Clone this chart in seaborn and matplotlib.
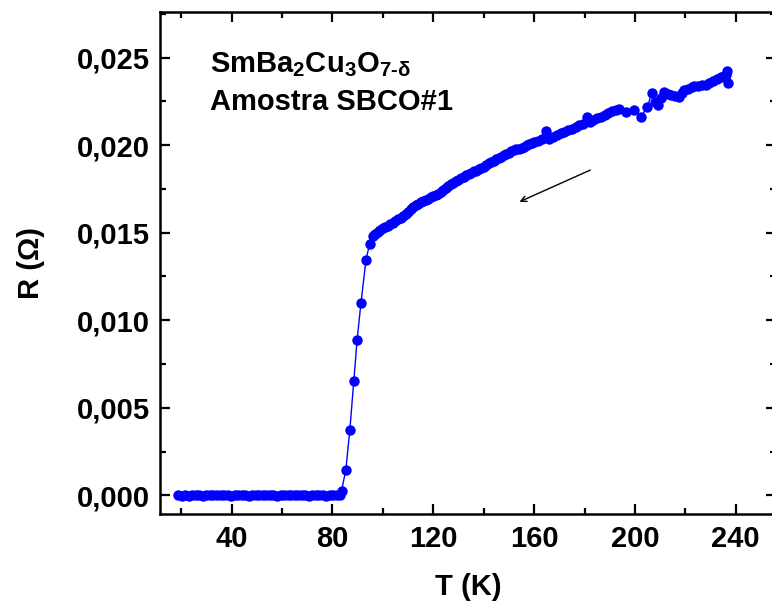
import numpy as np
import pandas as pd
import matplotlib
matplotlib.use('Agg')
import matplotlib.pyplot as plt
import seaborn as sns
from matplotlib.ticker import MultipleLocator, FuncFormatter

# %%
# R(T) for SmBa2Cu3O7-d, sample SBCO#1
T_flat = [18.8, 20.2, 21.6, 23.0, 24.4, 25.8, 27.2, 28.6, 30.0, 31.4, 32.8, 34.2,
          35.6, 37.0, 38.4, 39.8, 41.2, 42.6, 44.0, 45.4, 46.8, 48.2, 49.6, 51.0,
          52.4, 53.8, 55.2, 56.6, 58.0, 59.4, 60.8, 62.2, 63.6, 65.0, 66.4, 67.8,
          69.2, 70.6, 72.0, 73.4, 74.8, 76.2, 77.6, 79.0, 80.4, 81.8, 83.0]
R_flat = [0.00000, -0.00001, 0.00001, -0.00001, 0.00000, 0.00001, 0.00000, -0.00001,
          0.00001, 0.00001, 0.00000, 0.00000, 0.00002, 0.00001, 0.00000, -0.00001,
          0.00000, 0.00000, 0.00001, 0.00000, -0.00001, 0.00000, 0.00000, 0.00001,
          0.00000, 0.00001, 0.00000, 0.00000, -0.00001, 0.00000, 0.00001, 0.00002,
          0.00001, 0.00000, 0.00002, 0.00000, 0.00000, -0.00001, 0.00000, 0.00001,
          0.00000, 0.00000, -0.00001, 0.00000, 0.00000, 0.00001, 0.00003]

T_trans = [83.6, 85.3, 86.9, 88.5, 89.8, 91.3, 93.3, 94.7, 96.0]
R_trans = [0.00026, 0.00146, 0.00374, 0.00655, 0.00890, 0.01097, 0.01344, 0.01434, 0.01481]

T_norm = [97, 98, 99, 100, 101, 102, 103, 104, 105, 106, 107, 108, 109, 110, 111, 112,
          113, 114, 115, 116, 117, 118, 119, 120, 121, 122, 123, 124, 125, 126, 127, 128,
          129, 130, 131, 132, 133, 134, 135, 136, 137, 138, 139, 140, 141, 142, 143, 144,
          145, 146, 147, 148, 149, 150, 151, 152, 153, 154, 155, 156, 157, 158, 159, 160,
          161.5, 163, 164.7, 166, 167.5, 169, 170.5, 172, 173.5, 175, 176.5, 178, 179.5,
          181, 182, 183.5, 185, 186.5, 188, 189.5, 191, 192.5, 193.6, 196.3, 199.6, 202.5,
          204.9, 206.7, 208, 209, 210.5, 211.6, 213, 214.3, 216, 217.3, 218.5, 219.6, 221,
          222.5, 223.6, 225, 226.5, 228, 229.5, 231, 232.5, 234, 235.3, 236.3, 236.7, 236.9]
R_norm = [0.01495, 0.01506, 0.01515, 0.01525, 0.01533, 0.01540, 0.01548, 0.01556,
          0.01568, 0.01578, 0.01586, 0.01595, 0.01608, 0.01620, 0.01633, 0.01645,
          0.01656, 0.01665, 0.01673, 0.01680, 0.01688, 0.01695, 0.01702, 0.01708,
          0.01714, 0.01722, 0.01731, 0.01742, 0.01755, 0.01766, 0.01776, 0.01785,
          0.01793, 0.01801, 0.01811, 0.01820, 0.01828, 0.01836, 0.01843, 0.01850,
          0.01855, 0.01862, 0.01868, 0.01876, 0.01886, 0.01895, 0.01903, 0.01911,
          0.01918, 0.01926, 0.01934, 0.01941, 0.01948, 0.01956, 0.01964, 0.01971,
          0.01975, 0.01979, 0.01985, 0.01992, 0.01999, 0.02006, 0.02012, 0.02018,
          0.02025, 0.02032, 0.02078, 0.02035, 0.02045, 0.02058, 0.02068, 0.02075, 0.02085,
          0.02094, 0.02103, 0.02112, 0.02122, 0.02162, 0.02132, 0.02142, 0.02153, 0.02163,
          0.02173, 0.02182, 0.02193, 0.02200, 0.02206, 0.02191, 0.02200, 0.02162,
          0.02219, 0.02296, 0.02245, 0.02229, 0.02270, 0.02305, 0.02292, 0.02286, 0.02280,
          0.02273, 0.02300, 0.02314, 0.02322, 0.02330, 0.02337, 0.02340, 0.02342, 0.02345,
          0.02352, 0.02368, 0.02380, 0.02388, 0.02393, 0.02400, 0.02425, 0.02353]

df = pd.DataFrame({'T': T_flat + T_trans + T_norm,
                   'R': R_flat + R_trans + R_norm})

# %%
sns.set_style('ticks')
plt.rcParams['font.family'] = ['Liberation Sans', 'DejaVu Sans']
plt.rcParams['font.weight'] = 'bold'
plt.rcParams['text.color'] = 'black'
plt.rcParams['axes.labelcolor'] = 'black'
plt.rcParams['xtick.color'] = 'black'
plt.rcParams['ytick.color'] = 'black'
plt.rcParams['mathtext.fontset'] = 'custom'
plt.rcParams['mathtext.rm'] = 'Liberation Sans:bold'
plt.rcParams['mathtext.it'] = 'Liberation Sans:bold'
plt.rcParams['mathtext.bf'] = 'Liberation Sans:bold'

fs = 21
fig = plt.figure(figsize=(7.72, 6.08), dpi=100)
ax = fig.add_axes([0.2073, 0.1546, 0.798, 0.8257])

sns.lineplot(data=df, x='T', y='R', sort=False, ax=ax, color='#0000ff', lw=1,
             marker='o', markersize=7.5, markeredgewidth=0, markeredgecolor='#0000ff')

ax.set_xlim(11.6, 256)
ax.set_ylim(-0.00106, 0.0276)
ax.xaxis.set_major_locator(MultipleLocator(40))
ax.xaxis.set_minor_locator(MultipleLocator(20))
ax.yaxis.set_major_locator(MultipleLocator(0.005))
ax.yaxis.set_minor_locator(MultipleLocator(0.0025))
ax.yaxis.set_major_formatter(FuncFormatter(lambda v, p: f'{abs(v):.3f}'.replace('.', ',')
                                           if abs(v) < 1e-9 else f'{v:.3f}'.replace('.', ',')))

ax.tick_params(which='both', direction='in', top=True, right=True, width=1.6, color='black')
ax.tick_params(which='major', length=7)
ax.tick_params(which='minor', length=4)
ax.tick_params(axis='x', which='major', pad=8, labelsize=fs)
ax.tick_params(axis='y', which='major', pad=7, labelsize=fs)
for s in ax.spines.values():
    s.set_linewidth(1.8)
    s.set_color('black')

ax.set_xlabel('T (K)', fontsize=fs, fontweight='bold', labelpad=14)
ax.set_ylabel('R (Ω)', fontsize=fs, fontweight='bold', labelpad=23)

ax.text(0.0814, 0.880, r'SmBa$_2$Cu$_3$O$_{7\text{-}\delta}$', transform=ax.transAxes,
        fontsize=fs, fontweight='bold', va='baseline')
ax.text(0.0814, 0.805, 'Amostra SBCO#1', transform=ax.transAxes,
        fontsize=fs, fontweight='bold', va='baseline')

ax.annotate('', xy=(153.2, 0.0167), xytext=(183.3, 0.01864),
            arrowprops=dict(arrowstyle='->', lw=1, color='black'))

fig.savefig('out.png', dpi=100)
